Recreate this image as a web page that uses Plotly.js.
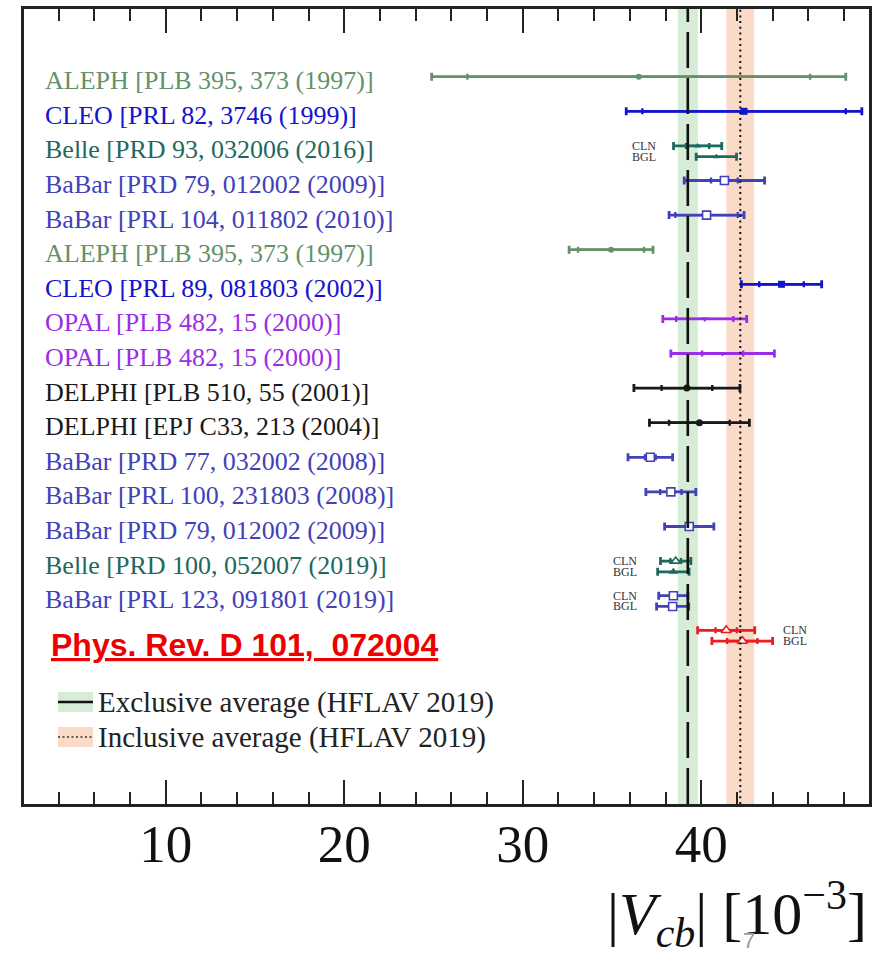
<!DOCTYPE html>
<html><head><meta charset="utf-8">
<script src="https://cdn.plot.ly/plotly-3.0.1.min.js"></script>
<style>html,body{margin:0;padding:0;background:#fff;} #chart{width:889px;height:956px;}</style>
</head><body><div id="chart"></div>
<script>
// ---------- data ----------
const rowLabels = [
  "ALEPH [PLB 395, 373 (1997)]",
  "CLEO [PRL 82, 3746 (1999)]",
  "Belle [PRD 93, 032006 (2016)]",
  "BaBar [PRD 79, 012002 (2009)]",
  "BaBar [PRL 104, 011802 (2010)]",
  "ALEPH [PLB 395, 373 (1997)]",
  "CLEO [PRL 89, 081803 (2002)]",
  "OPAL [PLB 482, 15 (2000)]",
  "OPAL [PLB 482, 15 (2000)]",
  "DELPHI [PLB 510, 55 (2001)]",
  "DELPHI [EPJ C33, 213 (2004)]",
  "BaBar [PRD 77, 032002 (2008)]",
  "BaBar [PRL 100, 231803 (2008)]",
  "BaBar [PRD 79, 012002 (2009)]",
  "Belle [PRD 100, 052007 (2019)]",
  "BaBar [PRL 123, 091801 (2019)]"
];
const rowExperiment = ["ALEPH","CLEO","Belle","BaBar","BaBar","ALEPH","CLEO","OPAL","OPAL","DELPHI","DELPHI","BaBar","BaBar","BaBar","Belle","BaBar"];

// one entry per measurement (row index in the list, fit model, central value, stat and total error) in units of 1e-3
const measRow        = [0, 1, 2, 2, 3, 4, 5, 6, 7, 8, 9, 10, 11, 12, 13, 14, 14, 15, 15, 16, 16];
const measFit        = ["", "", "CLN", "BGL", "", "", "", "", "", "", "", "", "", "", "", "CLN", "BGL", "CLN", "BGL", "CLN", "BGL"];
const measExperiment = ["ALEPH","CLEO","Belle","Belle","BaBar","BaBar","ALEPH","CLEO","OPAL","OPAL","DELPHI","DELPHI","BaBar","BaBar","BaBar","Belle","Belle","BaBar","BaBar","New","New"];
const measValue      = [36.5, 42.4, 39.8, 40.85, 41.3, 40.3, 34.95, 44.5, 40.2, 41.2, 39.2, 39.9, 37.15, 38.3, 39.33, 38.57, 38.44, 38.44, 38.4, 41.4, 42.3];
const measStat       = [9.6, 5.7, 0.65, null, 0.75, 1.75, 1.85, 1.25, 1.6, 1.15, 1.42, 1.7, 0.3, 0.6, null, 0.3, null, null, null, 0.6, 0.85];
const measTotal      = [11.6, 6.6, 1.35, 1.13, 2.25, 2.1, 2.35, 2.25, 2.35, 2.9, 2.97, 2.8, 1.25, 1.4, 1.38, 0.85, 0.88, 0.82, 0.9, 1.6, 1.7];

const avgLabels = ["Exclusive average (HFLAV 2019)", "Inclusive average (HFLAV 2019)"];
const avgValue  = [39.25, 42.19];
const avgError  = [0.56, 0.78];

const xTickValues = [10, 20, 30, 40];
const xTitleText = "|<i>V</i><sub><i>cb</i></sub>| [10<sup>\u22123</sup>]";
const refText = "<u>Phys. Rev. D 101,&nbsp; 072004</u>";
const pageNumber = "7";

// ---------- styles ----------
const expColor = {ALEPH:"rgb(100,145,105)", CLEO:"rgb(20,20,205)", Belle:"rgb(30,105,95)", BaBar:"rgb(65,65,185)", OPAL:"rgb(155,45,230)", DELPHI:"rgb(25,25,25)", New:"rgb(232,30,35)"};
const bgOffset = 0.31; // BGL bar sits just below the CLN bar
function markerFor(exp, fit, row) {
  const c = expColor[exp];
  if (exp === "ALEPH")  return {symbol:"circle", size:6, color:c};
  if (exp === "CLEO")   return {symbol:"square", size:7, color:c};
  if (exp === "OPAL")   return {symbol:"triangle-down", size:6, color:c};
  if (exp === "DELPHI") return {symbol:"circle", size:7, color:c};
  if (exp === "BaBar")  return {symbol:"square", size:8, color:"white", line:{color:c, width:1.6}};
  if (exp === "Belle") {
    if (row === 2) return {symbol:"triangle-up", size:6, color:c};
    return fit === "CLN" ? {symbol:"triangle-up", size:8, color:"white", line:{color:c, width:1.6}} : {symbol:"triangle-up", size:8, color:c};
  }
  return {symbol:"triangle-up", size:9, color:"white", line:{color:c, width:1.6}};
}

const traces = [];
for (let i = 0; i < measValue.length; i++) {
  const c = expColor[measExperiment[i]];
  const yv = measRow[i] + (measFit[i] === "BGL" ? bgOffset : 0);
  if (measStat[i] !== null) {
    traces.push({type:"scatter", mode:"markers", x:[measValue[i]], y:[yv], showlegend:false, hoverinfo:"skip",
      marker:{size:1, color:"rgba(0,0,0,0)"},
      error_x:{type:"data", array:[measStat[i]], symmetric:true, color:c, thickness:2.4, width:3}});
  }
  traces.push({type:"scatter", mode:"markers", x:[measValue[i]], y:[yv], showlegend:false,
    marker:markerFor(measExperiment[i], measFit[i], measRow[i]),
    error_x:{type:"data", array:[measTotal[i]], symmetric:true, color:c, thickness:2.8, width:4}});
}

// pixel helpers for paper coordinates (plot area 24..869 x 9..804)
const L = 24, R = 869, T = 9, B = 804;
const px = v => (v - L) / (R - L);
const py = v => (B - v) / (B - T);

const shapes = [];
const annotations = [];
// average bands and lines
shapes.push({type:"rect", xref:"x", yref:"paper", x0:avgValue[0]-avgError[0], x1:avgValue[0]+avgError[0], y0:0, y1:1, fillcolor:"rgb(214,236,214)", line:{width:0}, layer:"below"});
shapes.push({type:"rect", xref:"x", yref:"paper", x0:avgValue[1]-avgError[1], x1:avgValue[1]+avgError[1], y0:0, y1:1, fillcolor:"rgb(250,219,200)", line:{width:0}, layer:"below"});
shapes.push({type:"line", xref:"x", yref:"paper", x0:avgValue[0], x1:avgValue[0], y0:0, y1:1, line:{color:"#111", width:2.6, dash:"36px,10px"}, layer:"above"});
shapes.push({type:"line", xref:"x", yref:"paper", x0:avgValue[1], x1:avgValue[1], y0:0, y1:1, line:{color:"#111", width:2, dash:"2px,3.7px"}, layer:"above"});
// legend boxes
shapes.push({type:"rect", xref:"paper", yref:"paper", x0:px(58), x1:px(93), y0:py(712), y1:py(692), fillcolor:"rgb(214,236,214)", line:{width:0}});
shapes.push({type:"line", xref:"paper", yref:"paper", x0:px(58), x1:px(93), y0:py(702), y1:py(702), line:{color:"#111", width:2.6}});
shapes.push({type:"rect", xref:"paper", yref:"paper", x0:px(58), x1:px(93), y0:py(747), y1:py(727), fillcolor:"rgb(250,219,200)", line:{width:0}});
shapes.push({type:"line", xref:"paper", yref:"paper", x0:px(58), x1:px(93), y0:py(737), y1:py(737), line:{color:"#333", width:1.6, dash:"2px,2.5px"}});

// row labels
for (let r = 0; r < rowLabels.length; r++) {
  annotations.push({xref:"paper", yref:"y", x:px(43), y:r, xanchor:"left", yanchor:"middle", yshift:-4, showarrow:false,
    text:rowLabels[r], font:{family:"Liberation Serif", size:26, color:expColor[rowExperiment[r]]}});
}
// CLN / BGL tags
const tagGroups = [{row:2, x:37.6, anchor:"right"}, {row:14, x:36.5, anchor:"right"}, {row:15, x:36.5, anchor:"right"}, {row:16, x:44.45, anchor:"left"}];
tagGroups.forEach(g => {
  ["CLN","BGL"].forEach((t, k) => {
    annotations.push({xref:"x", yref:"y", x:g.x, y:g.row + k*bgOffset, xanchor:g.anchor, yanchor:"middle", showarrow:false,
      text:t, font:{family:"Liberation Serif", size:12, color:"#333"}});
  });
});
// reference (its white box covers the bottom of the last label, as in the original)
annotations.push({xref:"paper", yref:"paper", x:px(36), y:py(645), xanchor:"left", yanchor:"middle", showarrow:false,
  text:refText, bgcolor:"white", borderpad:14, font:{family:"Liberation Sans", size:32, color:"rgb(238,0,0)", weight:"bold"}});
// legend texts
annotations.push({xref:"paper", yref:"paper", x:px(96), y:py(702), xanchor:"left", yanchor:"middle", showarrow:false,
  text:avgLabels[0], font:{family:"Liberation Serif", size:29, color:"#222"}});
annotations.push({xref:"paper", yref:"paper", x:px(96), y:py(737), xanchor:"left", yanchor:"middle", showarrow:false,
  text:avgLabels[1], font:{family:"Liberation Serif", size:29, color:"#222"}});
// axis title
annotations.push({xref:"paper", yref:"paper", x:px(869), y:py(958), xanchor:"right", yanchor:"bottom", showarrow:false,
  text:xTitleText, font:{family:"Liberation Serif", size:60, color:"#111"}});
// page number
annotations.push({xref:"paper", yref:"paper", x:px(749), y:py(940), xanchor:"center", yanchor:"middle", showarrow:false,
  text:pageNumber, font:{family:"Liberation Sans", size:22, color:"#999"}});

const layout = {
  width:889, height:956,
  margin:{l:L, r:889-R, t:T, b:956-B, pad:0},
  paper_bgcolor:"white", plot_bgcolor:"white",
  showlegend:false,
  font:{family:"Liberation Serif", color:"#111"},
  xaxis:{range:[(L+12.8)/17.85, (R+12.8)/17.85], tickmode:"array", tickvals:xTickValues, ticktext:xTickValues.map(String),
    ticks:"inside", ticklen:24, tickwidth:2, tickcolor:"#222",
    minor:{tickmode:"linear", tick0:0, dtick:2, ticks:"inside", ticklen:12, tickwidth:2, tickcolor:"#222", showgrid:false},
    showline:true, linewidth:3, linecolor:"#222", mirror:"ticks",
    showgrid:false, zeroline:false, ticklabelstandoff:-9,
    tickfont:{family:"Liberation Serif", size:53, color:"#111"}},
  yaxis:{range:[(B-76.7)/34.6, (T-76.7)/34.6], showline:true, linewidth:3, linecolor:"#222", mirror:true,
    ticks:"", showticklabels:false, showgrid:false, zeroline:false},
  shapes:shapes,
  annotations:annotations
};
Plotly.newPlot("chart", traces, layout, {displayModeBar:false, staticPlot:true});
</script>
</body></html>
